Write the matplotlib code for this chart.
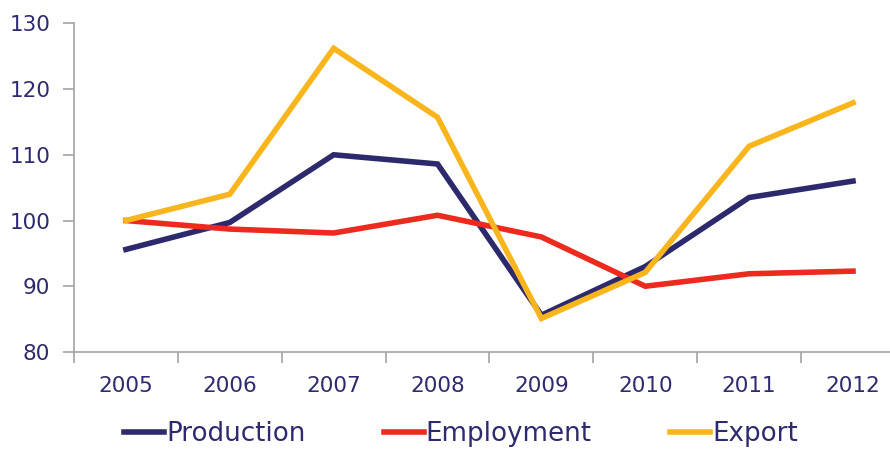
import numpy as np
import matplotlib
matplotlib.use('Agg')
import matplotlib.pyplot as plt

# data (index values)
years = ['2005', '2006', '2007', '2008', '2009', '2010', '2011', '2012']
production = [95.6, 99.7, 110.0, 108.6, 85.6, 93.0, 103.5, 106.0]
employment = [100.0, 98.7, 98.1, 100.8, 97.5, 90.0, 91.9, 92.3]
export = [100.0, 104.0, 126.2, 115.7, 85.1, 92.1, 111.3, 117.9]

text_col = '#2E2A6E'
axis_col = '#A8A2A2'

plt.rcParams['font.family'] = ['DejaVu Sans']

fig = plt.figure(figsize=(8.9, 4.5), dpi=100)
ax = fig.add_axes([0.0831, 0.2178, 0.9337, 0.7304])

x = np.arange(len(years))
ax.plot(x, production, color='#2C2A6C', lw=4, label='Production', solid_joinstyle='miter')
ax.plot(x, employment, color='#EC2A1E', lw=4, label='Employment', solid_joinstyle='miter')
ax.plot(x, export, color='#F9B51C', lw=4, label='Export', solid_joinstyle='miter')

ax.set_xlim(-0.5, len(years) - 0.5)
ax.set_ylim(80, 130)
ax.set_yticks(range(80, 131, 10))

ax.set_xticks(x)
ax.set_xticklabels(years)
ax.set_xticks(np.arange(-0.5, len(years)), minor=True)
ax.tick_params(axis='x', which='major', length=0, pad=17, labelsize=15.5, labelcolor=text_col)
ax.tick_params(axis='x', which='minor', length=8, width=1.2, color=axis_col, direction='out')
ax.tick_params(axis='y', length=8, width=1.2, color=axis_col, pad=9, labelsize=15.5, labelcolor=text_col)

for s in ['top', 'right']:
    ax.spines[s].set_visible(False)
for s in ['left', 'bottom']:
    ax.spines[s].set_color(axis_col)
    ax.spines[s].set_linewidth(1.2)

leg = fig.legend(loc='center', bbox_to_anchor=(0.518, 0.035), ncol=3, frameon=False,
                 fontsize=18.8, handlelength=1.53, handletextpad=0.08, columnspacing=3.0)
for t in leg.get_texts():
    t.set_color(text_col)

fig.savefig('out.png', dpi=100, facecolor='white')
